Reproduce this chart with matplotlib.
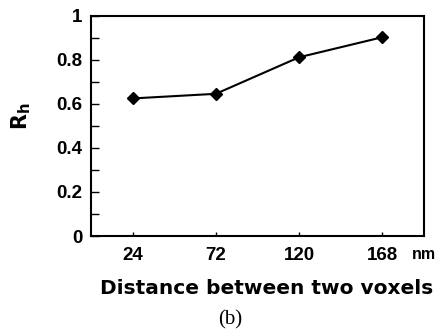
import matplotlib
matplotlib.use('Agg')
import matplotlib.pyplot as plt
from matplotlib.ticker import MultipleLocator

distance = [24, 72, 120, 168]
rh = [0.625, 0.646, 0.812, 0.903]
xtick_labels = ['24', '72', '120', '168']
ytick_values = [0, 0.2, 0.4, 0.6, 0.8, 1]
ytick_labels = ['0', '0.2', '0.4', '0.6', '0.8', '1']

fig = plt.figure(figsize=(4.42, 3.31), dpi=100)
ax = fig.add_axes([0.206, 0.287, 0.753, 0.665])

ax.plot(distance, rh, color='black', linewidth=1.5, marker='D', markersize=6)

ax.set_xlim(0, 192)
ax.set_ylim(0, 1)
ax.set_xticks(distance)
ax.set_xticklabels(xtick_labels)
ax.set_yticks(ytick_values)
ax.set_yticklabels(ytick_labels)
ax.yaxis.set_minor_locator(MultipleLocator(0.1))

for s in ax.spines.values():
    s.set_linewidth(1.5)

ax.tick_params(axis='y', which='both', direction='in', length=6, width=1, pad=6)
ax.tick_params(axis='x', direction='in', length=3, width=1, pad=8)
for lab in ax.get_xticklabels() + ax.get_yticklabels():
    lab.set_fontfamily('Liberation Sans')
    lab.set_fontweight('bold')
    lab.set_fontsize(13.5)

fig.text(0.932, 0.232, 'nm', fontsize=11.5,
         fontweight='bold', family='Liberation Sans', ha='left', va='center')

fig.text(0.604, 0.127, 'Distance between two voxels', fontsize=14.5,
         fontweight='bold', family='DejaVu Sans', ha='center', va='center')
fig.text(0.047, 0.648, r'$\mathbf{R_h}$', fontsize=15, rotation=90,
         ha='center', va='center')
fig.text(0.52, 0.035, '(b)', fontsize=15, family='Liberation Serif',
         ha='center', va='center')

fig.savefig('out.png', dpi=100)
